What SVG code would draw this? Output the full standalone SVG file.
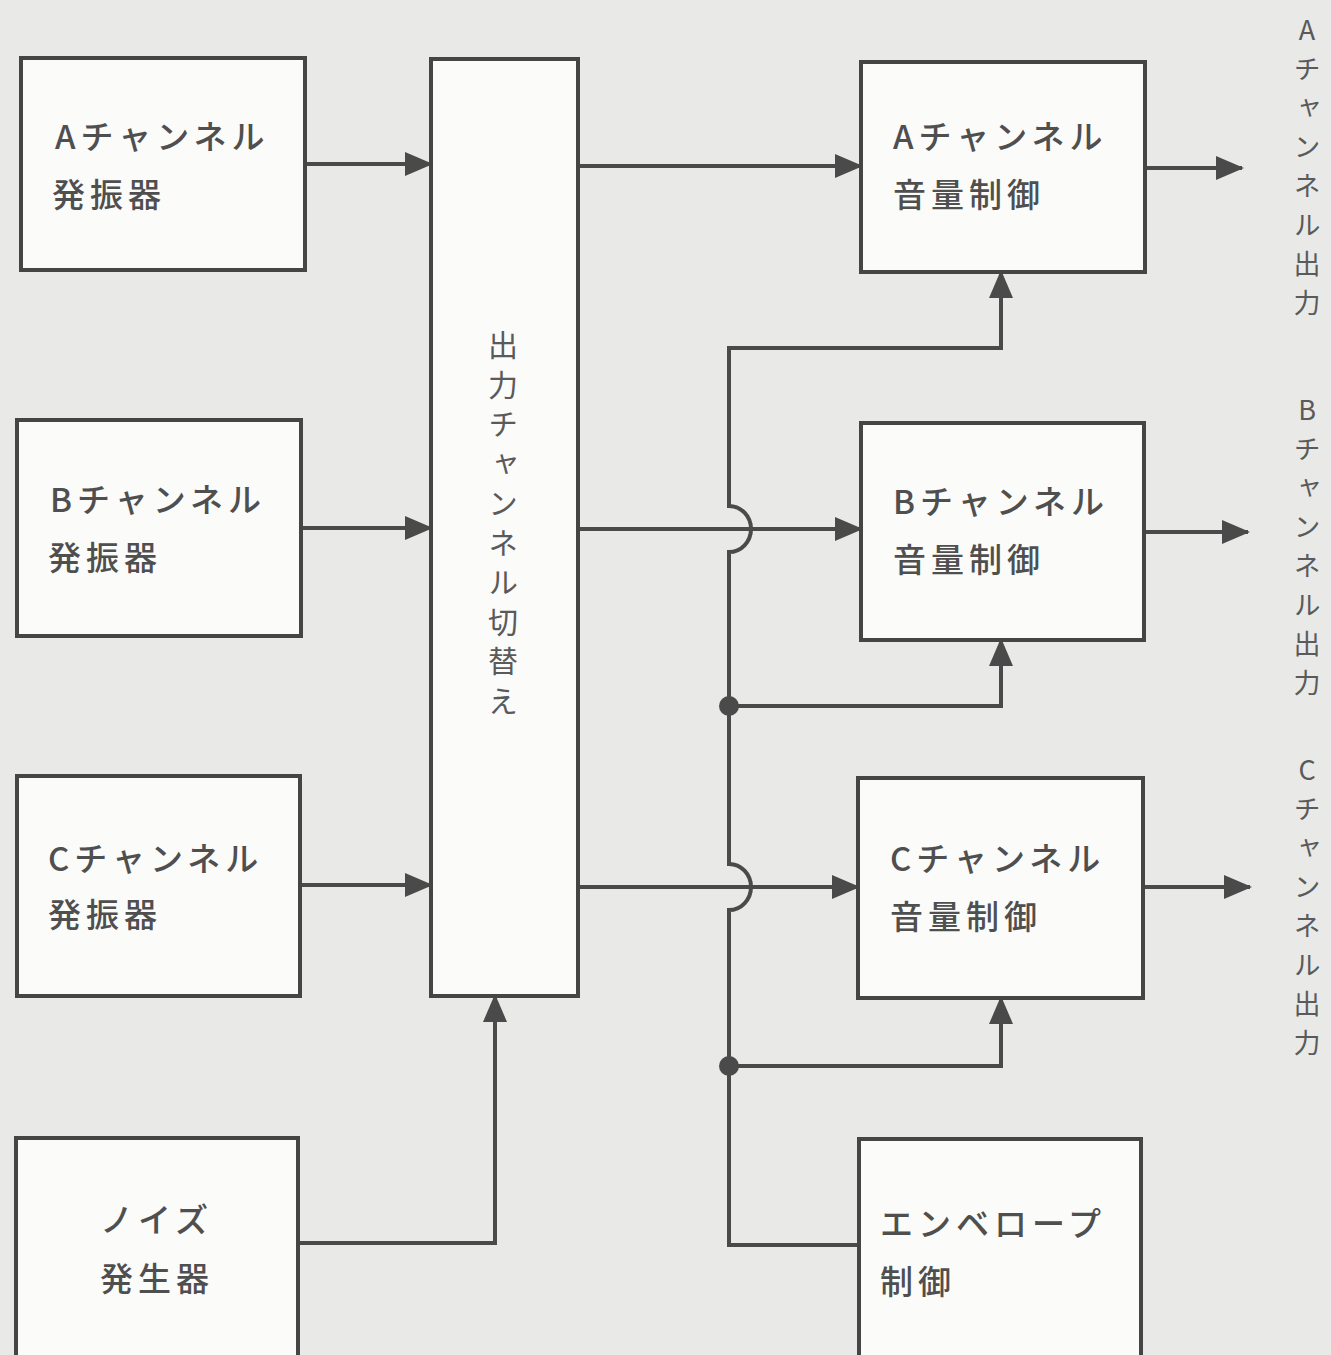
<svg xmlns="http://www.w3.org/2000/svg" width="1331" height="1355" viewBox="0 0 1331 1355">
<style>
.box{fill:#fbfbfa;stroke:#454545;stroke-width:4}
.ln{fill:none;stroke:#4a4a4a;stroke-width:4}
.t{font-family:"Noto Sans CJK JP","Noto Sans",sans-serif;font-size:33px;fill:#4f4f4f;letter-spacing:5px;dominant-baseline:central;font-weight:500}
.v{font-family:"Noto Sans CJK JP","Noto Sans",sans-serif;fill:#5a5a5a;writing-mode:vertical-rl;text-orientation:upright}
</style>
<defs>
<marker id="ah" markerUnits="userSpaceOnUse" markerWidth="28" markerHeight="24" refX="26" refY="12" orient="auto">
<path d="M0,0 L28,12 L0,24 Z" fill="#4a4a4a"/>
</marker>
</defs>
<rect width="1331" height="1355" fill="#e9e9e7"/>
<g id="connectors">
<path class="ln" d="M305,164 H431" marker-end="url(#ah)"/>
<path class="ln" d="M301,528 H431" marker-end="url(#ah)"/>
<path class="ln" d="M300,885 H431" marker-end="url(#ah)"/>
<path class="ln" d="M298,1243 H495 V996" marker-end="url(#ah)"/>
<path class="ln" d="M578,166 H861" marker-end="url(#ah)"/>
<path class="ln" d="M578,529 H861" marker-end="url(#ah)"/>
<path class="ln" d="M578,887 H858" marker-end="url(#ah)"/>
<path class="ln" d="M859,1245 H729 V910 A22,23 0 0 0 729,864 V552 A22,23 0 0 0 729,506 V348 H1001 V272" marker-end="url(#ah)"/>
<path class="ln" d="M729,706 H1001 V640" marker-end="url(#ah)"/>
<path class="ln" d="M729,1066 H1001 V998" marker-end="url(#ah)"/>
<circle cx="729" cy="706" r="10" fill="#4a4a4a"/>
<circle cx="729" cy="1066" r="10" fill="#4a4a4a"/>
<path class="ln" d="M1145,168 H1242" marker-end="url(#ah)"/>
<path class="ln" d="M1144,532 H1248" marker-end="url(#ah)"/>
<path class="ln" d="M1143,887 H1250" marker-end="url(#ah)"/>
</g>
<g id="oscA"><rect class="box" x="21" y="58" width="284" height="212"/><text class="t" x="55" y="135">Aチャンネル</text><text class="t" x="52" y="193">発振器</text></g>
<g id="oscB"><rect class="box" x="17" y="420" width="284" height="216"/><text class="t" x="50" y="498">Bチャンネル</text><text class="t" x="48" y="556">発振器</text></g>
<g id="oscC"><rect class="box" x="17" y="776" width="283" height="220"/><text class="t" x="48" y="857">Cチャンネル</text><text class="t" x="48" y="913">発振器</text></g>
<g id="noise"><rect class="box" x="16" y="1138" width="282" height="230"/><text class="t" x="100" y="1218">ノイズ</text><text class="t" x="100" y="1277">発生器</text></g>
<g id="switch"><rect class="box" x="431" y="59" width="147" height="937"/><text class="v" x="503" y="330" style="font-size:30px;letter-spacing:9.5px">出力チャンネル切替え</text></g>
<g id="volA"><rect class="box" x="861" y="62" width="284" height="210"/><text class="t" x="893" y="135">Aチャンネル</text><text class="t" x="893" y="193">音量制御</text></g>
<g id="volB"><rect class="box" x="861" y="423" width="283" height="217"/><text class="t" x="893" y="500">Bチャンネル</text><text class="t" x="893" y="558">音量制御</text></g>
<g id="volC"><rect class="box" x="858" y="778" width="285" height="220"/><text class="t" x="890" y="857">Cチャンネル</text><text class="t" x="890" y="915">音量制御</text></g>
<g id="env"><rect class="box" x="859" y="1139" width="282" height="230"/><text class="t" x="880" y="1222">エンベロープ</text><text class="t" x="880" y="1280">制御</text></g>
<g id="outA"><text class="v" x="1307" y="16" style="font-size:27px;letter-spacing:12px">Aチャンネル出力</text></g>
<g id="outB"><text class="v" x="1307" y="396" style="font-size:27px;letter-spacing:12px">Bチャンネル出力</text></g>
<g id="outC"><text class="v" x="1307" y="756" style="font-size:27px;letter-spacing:12px">Cチャンネル出力</text></g>
</svg>
